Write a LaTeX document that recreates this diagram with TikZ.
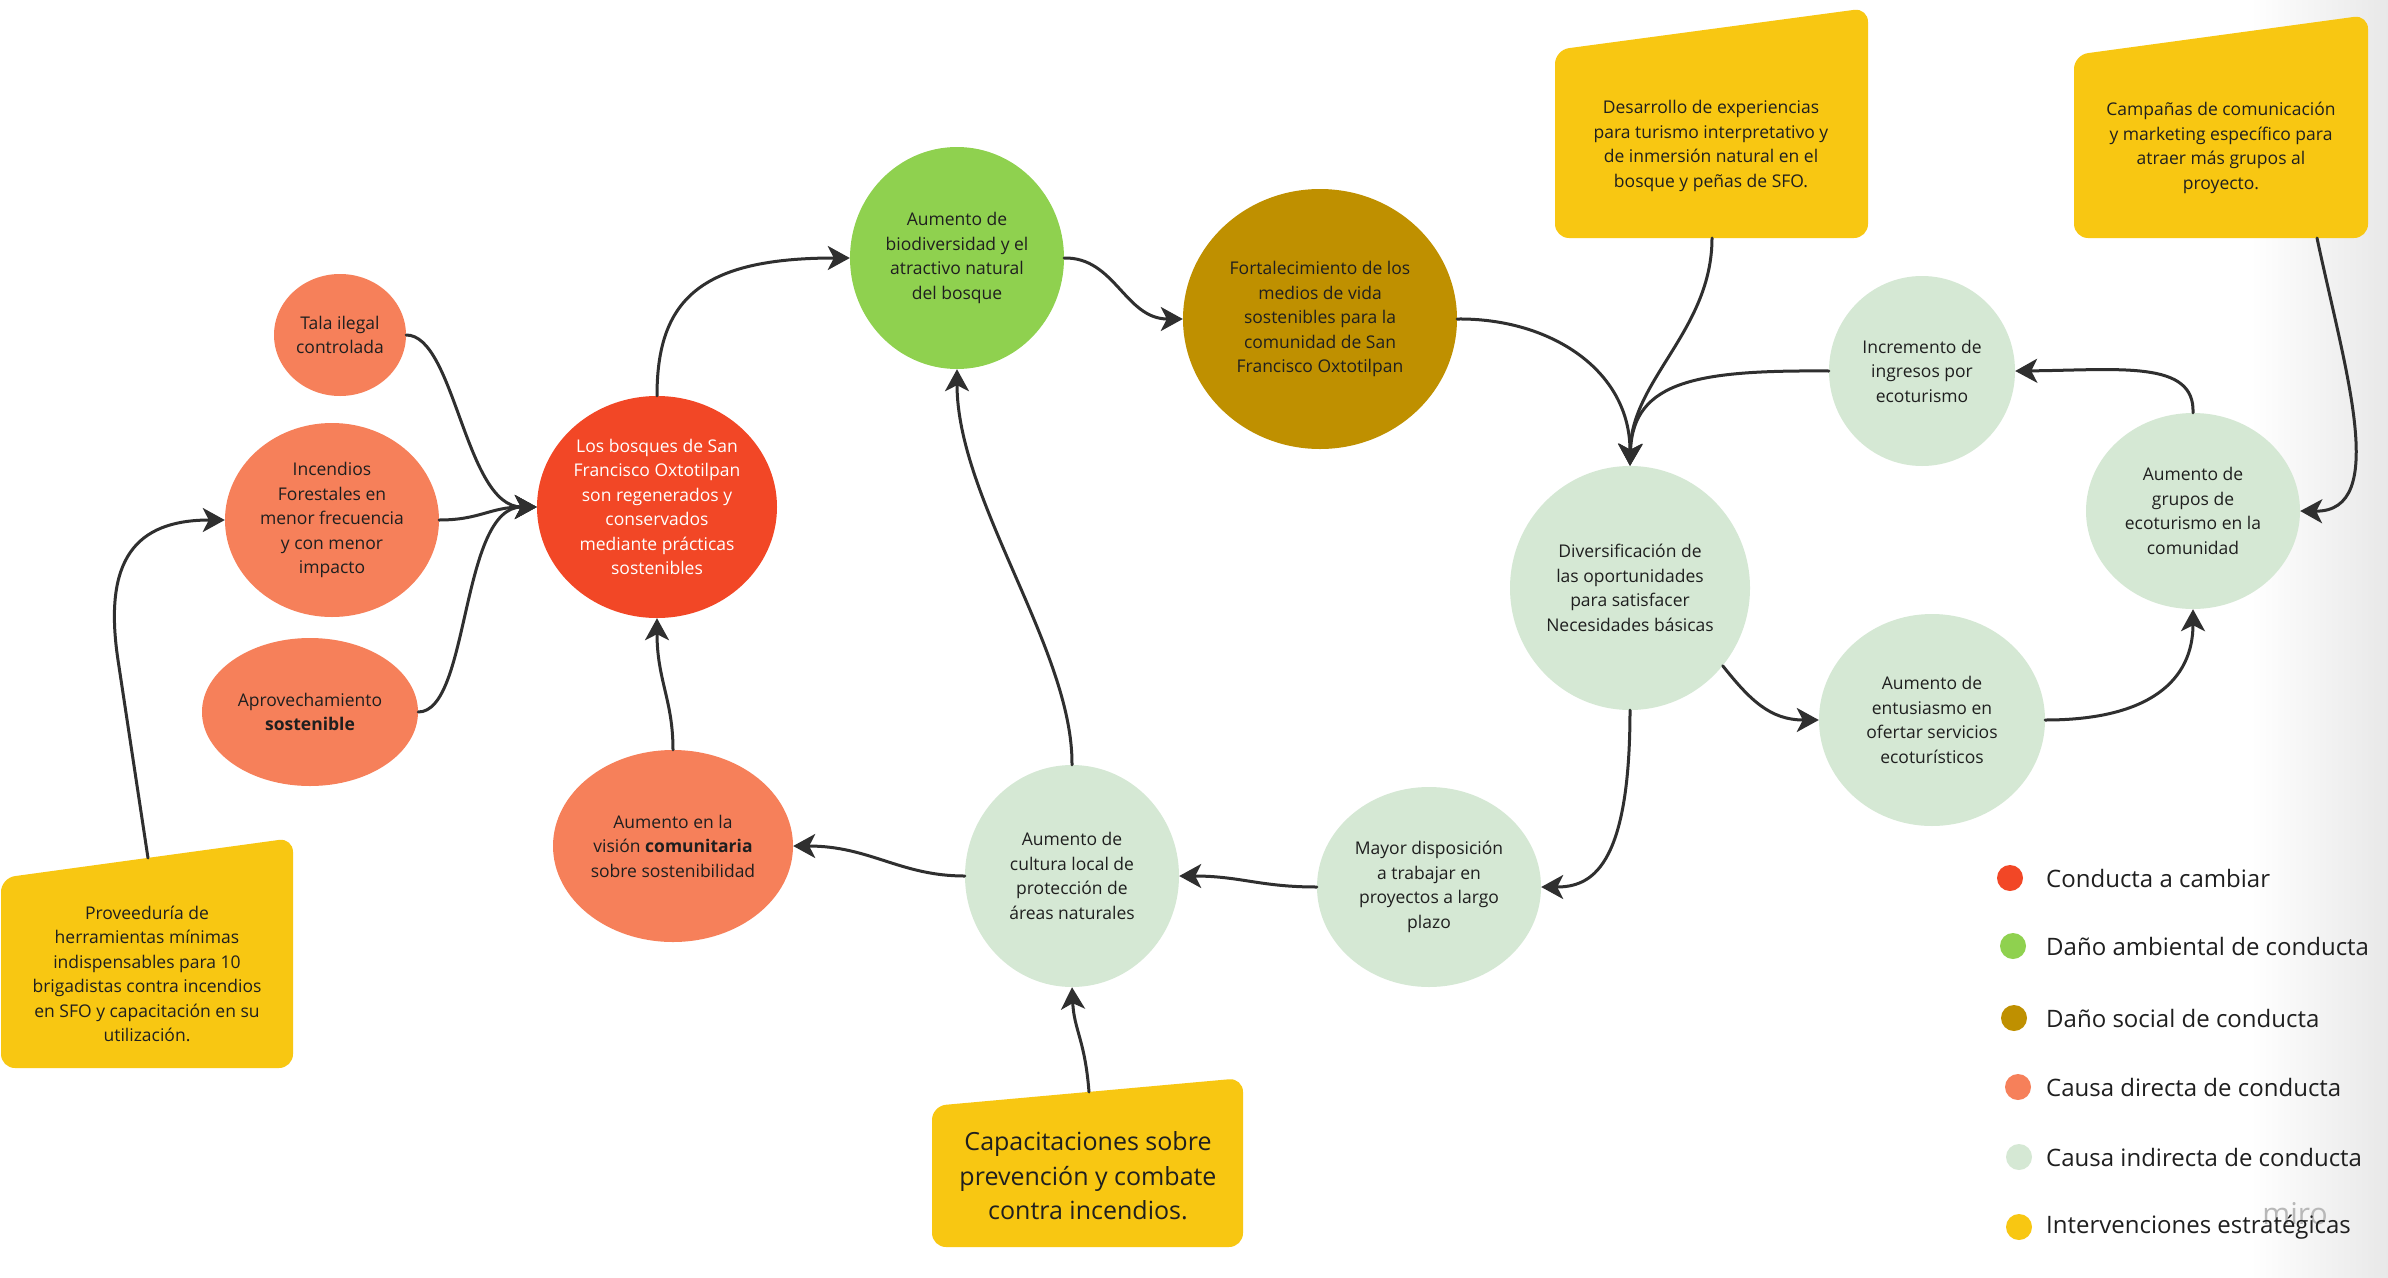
\documentclass[tikz,border=0pt]{standalone}
\usepackage{fontspec}
\setmainfont{Open Sans}
\usetikzlibrary{arrows.meta,shapes.geometric}
\definecolor{cred}{HTML}{F24726}
\definecolor{cgreen}{HTML}{8FD14F}
\definecolor{cbrown}{HTML}{BF9000}
\definecolor{corange}{HTML}{F6805A}
\definecolor{clight}{HTML}{D5E8D4}
\definecolor{cyellow}{HTML}{F8C712}
\definecolor{cline}{HTML}{2F2F2F}
\definecolor{ctxt}{HTML}{1F1F1F}
\begin{document}
\begin{tikzpicture}[x=1pt,y=1pt,
  blob/.style={ellipse, inner sep=0pt, draw=none},
  lbl/.style={align=center, font=\fontsize{17.5}{24.5}\selectfont, text=ctxt, inner sep=0pt},
  biglbl/.style={align=center, font=\fontsize{25}{34.5}\selectfont, text=ctxt, inner sep=0pt},
  conn/.style={draw=cline, line width=3pt, line cap=round, -{Stealth[length=22pt,width=24pt,inset=6pt]}},
  ybox/.style={fill=cyellow, rounded corners=14pt},
  ldot/.style={circle, inner sep=0pt, minimum size=26pt},
  ltext/.style={anchor=west, font=\fontsize{24}{28}\selectfont, text=ctxt, inner sep=0pt}
]
\useasboundingbox (0,0) rectangle (2388,-1277);
\fill[white] (0,0) rectangle (2388,-1277);
\shade[left color=white, right color=black!9] (2250,0) rectangle (2388,-1277);

% ---- yellow intervention boxes ----
\fill[ybox] (1,-878) -- (293,-838) -- (293,-1068) -- (1,-1068) -- cycle;
\fill[ybox] (1555,-50) -- (1868,-8) -- (1868,-238) -- (1555,-238) -- cycle;
\fill[ybox] (2074,-55) -- (2368,-15) -- (2368,-238) -- (2074,-238) -- cycle;
\fill[ybox] (932,-1106) -- (1243,-1078) -- (1243,-1247) -- (932,-1247) -- cycle;
\node[lbl] (prov) at (147,-974) {Proveeduría de\\herramientas mínimas\\indispensables para 10\\brigadistas contra incendios\\en SFO y capacitación en su\\utilización.};
\node[lbl] (des) at (1711,-146) {Desarrollo de experiencias\\para turismo interpretativo y\\de inmersión natural en el\\bosque y peñas de SFO.};
\node[lbl] (cam) at (2221,-148) {Campañas de comunicación\\y marketing específico para\\atraer más grupos al\\proyecto.};
\node[biglbl] (cap) at (1088,-1176) {Capacitaciones sobre\\prevención y combate\\contra incendios.};
\coordinate (prov-top) at (148,-858);
\coordinate (prov-bend) at (118,-660);
\coordinate (des-bot) at (1712,-238);
\coordinate (cam-bot) at (2317,-238);
\coordinate (cap-top) at (1089,-1092);

% ---- circles ----
\node[blob, fill=corange, minimum width=132pt, minimum height=122pt] (tala) at (340,-335) {};
\node[blob, fill=corange, minimum width=214pt, minimum height=194pt] (inc) at (332,-520) {};
\node[blob, fill=corange, minimum width=216pt, minimum height=148pt] (apro) at (310,-712) {};
\node[blob, fill=cred, minimum width=240pt, minimum height=222pt] (bos) at (657,-507) {};
\node[blob, fill=cgreen, minimum width=214pt, minimum height=222pt] (bio) at (957,-258) {};
\node[blob, fill=cbrown, minimum width=274pt, minimum height=260pt] (fort) at (1320,-319) {};
\node[blob, fill=clight, minimum width=186pt, minimum height=190pt] (incr) at (1922,-371) {};
\node[blob, fill=clight, minimum width=214pt, minimum height=196pt] (grup) at (2193,-511) {};
\node[blob, fill=clight, minimum width=240pt, minimum height=244pt] (div) at (1630,-588) {};
\node[blob, fill=clight, minimum width=226pt, minimum height=212pt] (ent) at (1932,-720) {};
\node[blob, fill=clight, minimum width=224pt, minimum height=200pt] (may) at (1429,-887) {};
\node[blob, fill=clight, minimum width=214pt, minimum height=222pt] (cul) at (1072,-876) {};
\node[blob, fill=corange, minimum width=240pt, minimum height=192pt] (vis) at (673,-846) {};

\node[lbl] (tala-t) at (tala) {Tala ilegal\\controlada};
\node[lbl] (inc-t) at (inc) {Incendios\\Forestales en\\menor frecuencia\\y con menor\\impacto};
\node[lbl] (apro-t) at (apro) {Aprovechamiento\\\textbf{sostenible}};
\node[lbl, text=white] (bos-t) at (bos) {Los bosques de San\\Francisco Oxtotilpan\\son regenerados y\\conservados\\mediante prácticas\\sostenibles};
\node[lbl] (bio-t) at (bio) {Aumento de\\biodiversidad y el\\atractivo natural\\del bosque};
\node[lbl] (fort-t) at (fort) {Fortalecimiento de los\\medios de vida\\sostenibles para la\\comunidad de San\\Francisco Oxtotilpan};
\node[lbl] (incr-t) at (incr) {Incremento de\\ingresos por\\ecoturismo};
\node[lbl] (grup-t) at (grup) {Aumento de\\grupos de\\ecoturismo en la\\comunidad};
\node[lbl] (div-t) at (div) {Diversificación de\\las oportunidades\\para satisfacer\\Necesidades básicas};
\node[lbl] (ent-t) at (ent) {Aumento de\\entusiasmo en\\ofertar servicios\\ecoturísticos};
\node[lbl] (may-t) at (may) {Mayor disposición\\a trabajar en\\proyectos a largo\\plazo};
\node[lbl] (cul-t) at (cul) {Aumento de\\cultura local de\\protección de\\áreas naturales};
\node[lbl] (vis-t) at (vis) {Aumento en la\\visión \textbf{comunitaria}\\sobre sostenibilidad};

% ---- connectors ----
\draw[conn] (tala.east) .. controls (455,-335) and (465,-507) .. (bos.west);
\draw[conn] (inc.east) .. controls (480,-520) and (490,-507) .. (bos.west);
\draw[conn] (apro.east) .. controls (470,-712) and (460,-507) .. (bos.west);
\draw[conn] (prov-top) -- (prov-bend) .. controls (103,-560) and (135,-520) .. (inc.west);
\draw[conn] (bos.north) .. controls (657,-300) and (700,-258) .. (bio.west);
\draw[conn] (bio.east) .. controls (1115,-257) and (1125,-319) .. (fort.west);
\draw[conn] (fort.east) .. controls (1550,-318) and (1630,-370) .. (div.north);
\draw[conn] (des-bot) .. controls (1712,-330) and (1631,-380) .. (div.north);
\draw[conn] (incr.west) .. controls (1700,-370) and (1633,-380) .. (div.north);
\draw[conn] (grup.north) .. controls (2195,-360) and (2120,-370) .. (incr.east);
\draw[conn] (cam-bot) .. controls (2345,-370) and (2390,-512) .. (grup.east);
\draw[conn] (div.-40) .. controls (1750,-700) and (1770,-720) .. (ent.west);
\draw[conn] (ent.east) .. controls (2150,-720) and (2193,-680) .. (grup.south);
\draw[conn] (div.south) .. controls (1630,-870) and (1590,-887) .. (may.east);
\draw[conn] (may.west) .. controls (1260,-887) and (1240,-876) .. (cul.east);
\draw[conn] (cul.west) .. controls (900,-876) and (870,-846) .. (vis.east);
\draw[conn] (cap-top) .. controls (1085,-1040) and (1074,-1030) .. (cul.south);
\draw[conn] (vis.north) .. controls (673,-700) and (657,-680) .. (bos.south);
\draw[conn] (cul.north) .. controls (1073,-650) and (957,-500) .. (bio.south);

% ---- legend ----
\node[ldot, fill=cred] (d1) at (2010,-878) {};
\node[ldot, fill=cgreen] (d2) at (2013,-946) {};
\node[ldot, fill=cbrown] (d3) at (2014,-1018) {};
\node[ldot, fill=corange] (d4) at (2018,-1087) {};
\node[ldot, fill=clight] (d5) at (2019,-1157) {};
\node[ldot, fill=cyellow] (d6) at (2019,-1227) {};
\node[text=black!28, font=\fontsize{30}{32}\selectfont, inner sep=0pt] (miro) at (2295,-1214) {miro};
\node[ltext] (l1) at (2046,-878) {Conducta a cambiar};
\node[ltext] (l2) at (2046,-946) {Daño ambiental de conducta};
\node[ltext] (l3) at (2046,-1018) {Daño social de conducta};
\node[ltext] (l4) at (2046,-1087) {Causa directa de conducta};
\node[ltext] (l5) at (2046,-1157) {Causa indirecta de conducta};
\node[ltext] (l6) at (2046,-1227) {Intervenciones estratégicas};
\end{tikzpicture}
\end{document}
